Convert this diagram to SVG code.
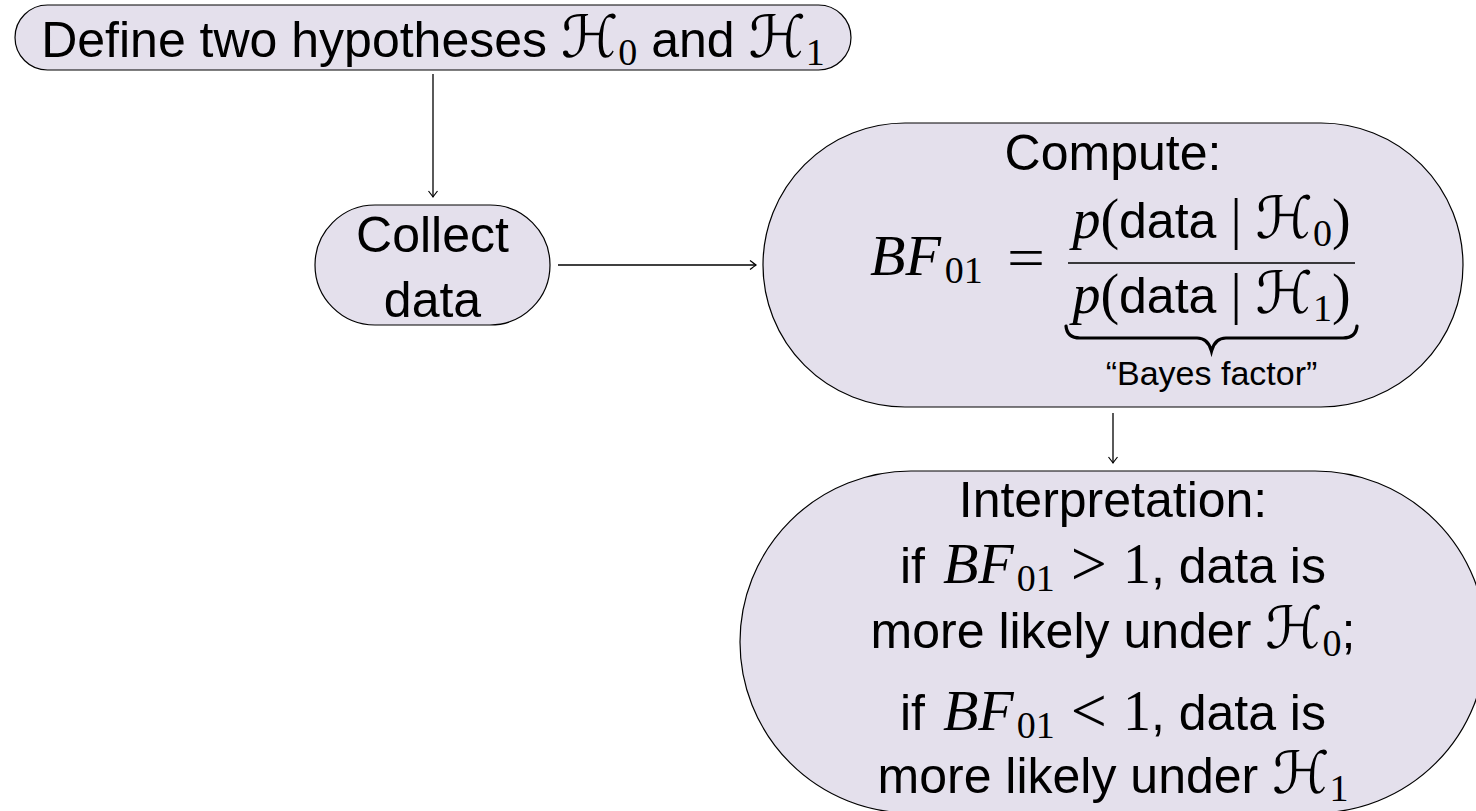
<svg xmlns="http://www.w3.org/2000/svg" width="1476" height="811" viewBox="0 0 1476 811">
  <style>
    .node { fill: #e4e0ec; stroke: #000; stroke-width: 1.2; }
    .edge { fill: none; stroke: #000; stroke-width: 1.3; }
    .t { font-family: "Liberation Sans", Arial, sans-serif; font-size: 50px; fill: #000; }
    .small { font-family: "Liberation Sans", Arial, sans-serif; font-size: 34px; fill: #000; }
    .mi { font-family: "Liberation Serif", "Times New Roman", serif; font-style: italic; font-size: 56px; }
    .big { font-size: 58px; }
    .mr { font-family: "Liberation Serif", "Times New Roman", serif; font-size: 56px; }
    .rel { font-family: "Liberation Serif", "Times New Roman", serif; font-size: 64px; }
    .sub { font-family: "Liberation Serif", "Times New Roman", serif; font-size: 38px; }
    .cal { font-family: "DejaVu Sans", "DejaVu Serif", serif; font-size: 58px; }
  </style>
  <defs>
    <marker id="tip" markerUnits="userSpaceOnUse" markerWidth="14" markerHeight="14" viewBox="-8 -7 10 14" refX="0" refY="0" orient="auto">
      <path d="M-6,-4.5 Q-1.5,-1 0,0 Q-1.5,1 -6,4.5" fill="none" stroke="#000" stroke-width="1.2"/>
    </marker>
  </defs>

  <!-- connectors -->
  <g id="connectors">
    <line class="edge" x1="433" y1="74" x2="433" y2="197" marker-end="url(#tip)"/>
    <line class="edge" x1="558" y1="265" x2="756" y2="265" marker-end="url(#tip)"/>
    <line class="edge" x1="1113" y1="413" x2="1113" y2="463" marker-end="url(#tip)"/>
  </g>

  <!-- step 1: hypotheses -->
  <g id="define">
    <path class="node" d="M47.5,5 H818.5 A32.5,32.5 0 0 1 818.5,70 H47.5 A32.5,32.5 0 0 1 47.5,5 Z"/>
    <text class="t" x="433" y="57" text-anchor="middle">Define two hypotheses <tspan class="cal">ℋ</tspan><tspan class="sub" dy="8">0</tspan><tspan dy="-8"> and </tspan><tspan class="cal">ℋ</tspan><tspan class="sub" dy="8">1</tspan></text>
  </g>

  <!-- step 2: data collection -->
  <g id="collect">
    <path class="node" d="M375,205 H490 A60,60 0 0 1 490,325 H375 A60,60 0 0 1 375,205 Z"/>
    <text class="t" x="432.5" y="252" text-anchor="middle">Collect</text>
    <text class="t" x="432.5" y="317" text-anchor="middle">data</text>
  </g>

  <!-- step 3: Bayes factor -->
  <g id="compute">
    <path class="node" d="M905,123 H1321 A142,142 0 0 1 1321,407 H905 A142,142 0 0 1 905,123 Z"/>
    <text class="t" x="1113" y="170" text-anchor="middle">Compute:</text>
    <text x="870" y="275"><tspan class="mi big">BF</tspan><tspan class="sub" dy="8" dx="4" font-size="40">01</tspan></text>
    <text class="mr" x="1007" y="277" textLength="38" lengthAdjust="spacingAndGlyphs">=</text>
    <text class="t" x="1211.5" y="238" text-anchor="middle"><tspan class="mi">p</tspan><tspan class="mr">(</tspan>data<tspan class="mr" dx="14">|</tspan><tspan class="cal" dx="14">ℋ</tspan><tspan class="sub" dy="8">0</tspan><tspan class="mr" dy="-8">)</tspan></text>
    <line x1="1068" y1="263" x2="1355" y2="263" stroke="#000" stroke-width="1.4"/>
    <text class="t" x="1211.5" y="313" text-anchor="middle"><tspan class="mi">p</tspan><tspan class="mr">(</tspan>data<tspan class="mr" dx="14">|</tspan><tspan class="cal" dx="14">ℋ</tspan><tspan class="sub" dy="8">1</tspan><tspan class="mr" dy="-8">)</tspan></text>
    <path d="M1066,326 Q1067,338 1080,338 L1197,338 Q1208,338 1211.5,351 Q1215,338 1226,338 L1343,338 Q1356,338 1357,326" fill="none" stroke="#000" stroke-width="3.2" stroke-linecap="round"/>
    <text class="small" x="1211.5" y="385" text-anchor="middle">“Bayes factor”</text>
  </g>

  <!-- step 4: reading the result -->
  <g id="interpret">
    <path class="node" d="M911,471 H1315 A171,171 0 0 1 1315,813 H911 A171,171 0 0 1 911,471 Z"/>
    <text class="t" x="1113" y="517" text-anchor="middle">Interpretation:</text>
    <text class="t" x="1113" y="583" text-anchor="middle">if <tspan class="mi big" dx="4">BF</tspan><tspan class="sub" dy="8" dx="3">01</tspan><tspan class="rel" dy="-6" dx="16">&gt;</tspan><tspan class="mr" dy="-2" dx="16">1</tspan>, data is</text>
    <text class="t" x="1113" y="648" text-anchor="middle">more likely under <tspan class="cal">ℋ</tspan><tspan class="sub" dy="8">0</tspan><tspan dy="-8">;</tspan></text>
    <text class="t" x="1113" y="730" text-anchor="middle">if <tspan class="mi big" dx="4">BF</tspan><tspan class="sub" dy="8" dx="3">01</tspan><tspan class="rel" dy="-6" dx="16">&lt;</tspan><tspan class="mr" dy="-2" dx="16">1</tspan>, data is</text>
    <text class="t" x="1113" y="793" text-anchor="middle">more likely under <tspan class="cal">ℋ</tspan><tspan class="sub" dy="8">1</tspan></text>
  </g>
</svg>
